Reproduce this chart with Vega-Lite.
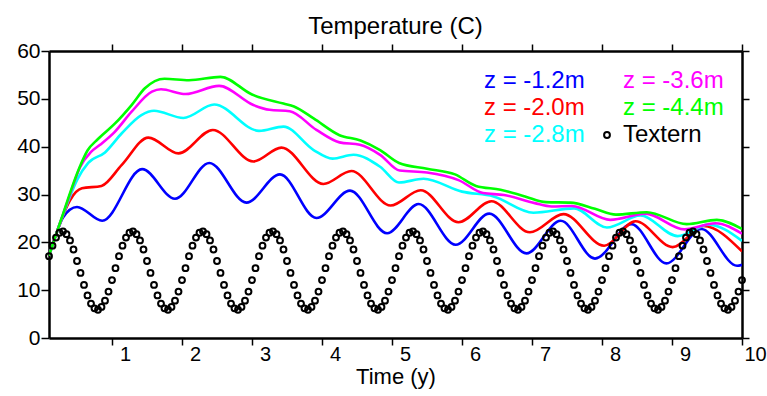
{
  "$schema": "https://vega.github.io/schema/vega-lite/v6.json",
  "width": 693,
  "height": 287,
  "autosize": {"type": "none"},
  "padding": {"left": 49, "top": 51, "right": 25, "bottom": 58},
  "background": "white",
  "title": {"text": "Temperature (C)", "font": "Liberation Sans", "fontSize": 24, "fontWeight": "normal", "color": "black", "anchor": "middle", "baseline": "alphabetic", "offset": -18},
  "config": {
    "view": {"stroke": null},
    "axis": {"grid": false, "domainColor": "black", "domainWidth": 2.5, "tickColor": "black", "tickWidth": 1.5, "labelColor": "black", "labelFont": "Liberation Sans", "titleFont": "Liberation Sans", "titleColor": "black", "titleFontWeight": "normal", "labelOverlap": false, "labelFlush": false}
  },
  "resolve": {"axis": {"x": "independent", "y": "independent"}},
  "layer": [
    {
      "data": {"values": [
        {"s": "z = -1.2m", "t": 0.1, "v": 17.2}, {"s": "z = -1.2m", "t": 0.2, "v": 21.6}, {"s": "z = -1.2m", "t": 0.3, "v": 25.2}, {"s": "z = -1.2m", "t": 0.5, "v": 27.4}, {"s": "z = -1.2m", "t": 0.86, "v": 24.5}, {"s": "z = -1.2m", "t": 1.43, "v": 35.3}, {"s": "z = -1.2m", "t": 1.9, "v": 29.1}, {"s": "z = -1.2m", "t": 2.39, "v": 36.6}, {"s": "z = -1.2m", "t": 2.92, "v": 28.3}, {"s": "z = -1.2m", "t": 3.4, "v": 34.2}, {"s": "z = -1.2m", "t": 3.92, "v": 25.1}, {"s": "z = -1.2m", "t": 4.4, "v": 30.8}, {"s": "z = -1.2m", "t": 4.93, "v": 21.9}, {"s": "z = -1.2m", "t": 5.38, "v": 28.0}, {"s": "z = -1.2m", "t": 5.91, "v": 19.5}, {"s": "z = -1.2m", "t": 6.39, "v": 26.0}, {"s": "z = -1.2m", "t": 6.92, "v": 17.7}, {"s": "z = -1.2m", "t": 7.41, "v": 24.5}, {"s": "z = -1.2m", "t": 7.9, "v": 16.6}, {"s": "z = -1.2m", "t": 8.42, "v": 23.8}, {"s": "z = -1.2m", "t": 8.92, "v": 15.6}, {"s": "z = -1.2m", "t": 9.42, "v": 22.8}, {"s": "z = -1.2m", "t": 9.93, "v": 15.1}, {"s": "z = -1.2m", "t": 10.0, "v": 15.3},
        {"s": "z = -2.0m", "t": 0.1, "v": 17.2}, {"s": "z = -2.0m", "t": 0.2, "v": 21.6}, {"s": "z = -2.0m", "t": 0.3, "v": 25.6}, {"s": "z = -2.0m", "t": 0.4, "v": 28.8}, {"s": "z = -2.0m", "t": 0.57, "v": 31.3}, {"s": "z = -2.0m", "t": 0.85, "v": 31.8}, {"s": "z = -2.0m", "t": 1.14, "v": 36.2}, {"s": "z = -2.0m", "t": 1.52, "v": 41.9}, {"s": "z = -2.0m", "t": 1.95, "v": 38.6}, {"s": "z = -2.0m", "t": 2.44, "v": 43.5}, {"s": "z = -2.0m", "t": 3.02, "v": 36.9}, {"s": "z = -2.0m", "t": 3.42, "v": 39.8}, {"s": "z = -2.0m", "t": 4.02, "v": 32.2}, {"s": "z = -2.0m", "t": 4.42, "v": 34.9}, {"s": "z = -2.0m", "t": 4.98, "v": 27.7}, {"s": "z = -2.0m", "t": 5.41, "v": 30.9}, {"s": "z = -2.0m", "t": 5.95, "v": 24.2}, {"s": "z = -2.0m", "t": 6.42, "v": 28.6}, {"s": "z = -2.0m", "t": 6.97, "v": 22.1}, {"s": "z = -2.0m", "t": 7.45, "v": 25.9}, {"s": "z = -2.0m", "t": 8.03, "v": 19.3}, {"s": "z = -2.0m", "t": 8.48, "v": 24.4}, {"s": "z = -2.0m", "t": 9.01, "v": 19.0}, {"s": "z = -2.0m", "t": 9.45, "v": 23.4}, {"s": "z = -2.0m", "t": 10.0, "v": 18.1},
        {"s": "z = -2.8m", "t": 0.1, "v": 17.2}, {"s": "z = -2.8m", "t": 0.2, "v": 21.6}, {"s": "z = -2.8m", "t": 0.3, "v": 25.7}, {"s": "z = -2.8m", "t": 0.4, "v": 29.6}, {"s": "z = -2.8m", "t": 0.5, "v": 33.0}, {"s": "z = -2.8m", "t": 0.66, "v": 36.6}, {"s": "z = -2.8m", "t": 0.9, "v": 38.8}, {"s": "z = -2.8m", "t": 1.14, "v": 42.8}, {"s": "z = -2.8m", "t": 1.42, "v": 46.6}, {"s": "z = -2.8m", "t": 1.6, "v": 47.5}, {"s": "z = -2.8m", "t": 2.02, "v": 46.0}, {"s": "z = -2.8m", "t": 2.46, "v": 48.8}, {"s": "z = -2.8m", "t": 3.1, "v": 43.3}, {"s": "z = -2.8m", "t": 3.45, "v": 44.2}, {"s": "z = -2.8m", "t": 3.88, "v": 39.3}, {"s": "z = -2.8m", "t": 4.15, "v": 37.5}, {"s": "z = -2.8m", "t": 4.45, "v": 38.3}, {"s": "z = -2.8m", "t": 4.83, "v": 35.8}, {"s": "z = -2.8m", "t": 5.1, "v": 32.5}, {"s": "z = -2.8m", "t": 5.45, "v": 33.3}, {"s": "z = -2.8m", "t": 6.0, "v": 30.6}, {"s": "z = -2.8m", "t": 6.45, "v": 29.6}, {"s": "z = -2.8m", "t": 7.02, "v": 26.2}, {"s": "z = -2.8m", "t": 7.6, "v": 27.1}, {"s": "z = -2.8m", "t": 8.07, "v": 23.1}, {"s": "z = -2.8m", "t": 8.55, "v": 25.6}, {"s": "z = -2.8m", "t": 9.08, "v": 21.3}, {"s": "z = -2.8m", "t": 9.52, "v": 23.7}, {"s": "z = -2.8m", "t": 10.0, "v": 20.3},
        {"s": "z = -3.6m", "t": 0.1, "v": 17.2}, {"s": "z = -3.6m", "t": 0.2, "v": 21.6}, {"s": "z = -3.6m", "t": 0.3, "v": 25.8}, {"s": "z = -3.6m", "t": 0.4, "v": 30.0}, {"s": "z = -3.6m", "t": 0.54, "v": 35.6}, {"s": "z = -3.6m", "t": 0.7, "v": 38.9}, {"s": "z = -3.6m", "t": 0.83, "v": 40.4}, {"s": "z = -3.6m", "t": 1.04, "v": 43.1}, {"s": "z = -3.6m", "t": 1.28, "v": 47.3}, {"s": "z = -3.6m", "t": 1.57, "v": 51.5}, {"s": "z = -3.6m", "t": 1.7, "v": 52.0}, {"s": "z = -3.6m", "t": 2.05, "v": 51.0}, {"s": "z = -3.6m", "t": 2.53, "v": 52.7}, {"s": "z = -3.6m", "t": 3.02, "v": 48.7}, {"s": "z = -3.6m", "t": 3.25, "v": 47.7}, {"s": "z = -3.6m", "t": 3.54, "v": 47.4}, {"s": "z = -3.6m", "t": 3.92, "v": 43.5}, {"s": "z = -3.6m", "t": 4.25, "v": 40.9}, {"s": "z = -3.6m", "t": 4.54, "v": 40.4}, {"s": "z = -3.6m", "t": 4.83, "v": 38.3}, {"s": "z = -3.6m", "t": 5.11, "v": 35.0}, {"s": "z = -3.6m", "t": 5.5, "v": 34.6}, {"s": "z = -3.6m", "t": 5.95, "v": 33.0}, {"s": "z = -3.6m", "t": 6.3, "v": 30.3}, {"s": "z = -3.6m", "t": 6.6, "v": 29.9}, {"s": "z = -3.6m", "t": 7.04, "v": 28.2}, {"s": "z = -3.6m", "t": 7.28, "v": 27.5}, {"s": "z = -3.6m", "t": 7.57, "v": 27.6}, {"s": "z = -3.6m", "t": 8.12, "v": 24.7}, {"s": "z = -3.6m", "t": 8.62, "v": 26.0}, {"s": "z = -3.6m", "t": 9.18, "v": 22.7}, {"s": "z = -3.6m", "t": 9.62, "v": 24.0}, {"s": "z = -3.6m", "t": 10.0, "v": 21.8},
        {"s": "z = -4.4m", "t": 0.1, "v": 17.2}, {"s": "z = -4.4m", "t": 0.2, "v": 21.6}, {"s": "z = -4.4m", "t": 0.3, "v": 25.9}, {"s": "z = -4.4m", "t": 0.4, "v": 30.3}, {"s": "z = -4.4m", "t": 0.54, "v": 35.8}, {"s": "z = -4.4m", "t": 0.65, "v": 39.2}, {"s": "z = -4.4m", "t": 0.8, "v": 41.6}, {"s": "z = -4.4m", "t": 1.04, "v": 44.8}, {"s": "z = -4.4m", "t": 1.28, "v": 48.7}, {"s": "z = -4.4m", "t": 1.47, "v": 52.2}, {"s": "z = -4.4m", "t": 1.75, "v": 54.2}, {"s": "z = -4.4m", "t": 2.1, "v": 53.9}, {"s": "z = -4.4m", "t": 2.55, "v": 54.6}, {"s": "z = -4.4m", "t": 3.0, "v": 50.9}, {"s": "z = -4.4m", "t": 3.45, "v": 49.0}, {"s": "z = -4.4m", "t": 3.6, "v": 48.4}, {"s": "z = -4.4m", "t": 3.88, "v": 45.9}, {"s": "z = -4.4m", "t": 4.25, "v": 42.4}, {"s": "z = -4.4m", "t": 4.55, "v": 41.3}, {"s": "z = -4.4m", "t": 4.83, "v": 39.3}, {"s": "z = -4.4m", "t": 5.1, "v": 36.6}, {"s": "z = -4.4m", "t": 5.5, "v": 35.4}, {"s": "z = -4.4m", "t": 5.9, "v": 34.2}, {"s": "z = -4.4m", "t": 6.2, "v": 31.8}, {"s": "z = -4.4m", "t": 6.55, "v": 31.0}, {"s": "z = -4.4m", "t": 6.9, "v": 29.6}, {"s": "z = -4.4m", "t": 7.2, "v": 28.4}, {"s": "z = -4.4m", "t": 7.55, "v": 28.3}, {"s": "z = -4.4m", "t": 7.9, "v": 27.0}, {"s": "z = -4.4m", "t": 8.2, "v": 25.8}, {"s": "z = -4.4m", "t": 8.64, "v": 26.3}, {"s": "z = -4.4m", "t": 9.21, "v": 23.8}, {"s": "z = -4.4m", "t": 9.64, "v": 24.7}, {"s": "z = -4.4m", "t": 10.0, "v": 22.8}
      ]},
      "mark": {"type": "line", "interpolate": "monotone", "strokeWidth": 2.6, "clip": true},
      "encoding": {
        "x": {"field": "t", "type": "quantitative", "scale": {"domain": [0.1, 10], "nice": false, "zero": false},
          "axis": {"orient": "bottom", "values": [1, 2, 3, 4, 5, 6, 7, 8, 9, 10], "tickSize": 7, "labelFontSize": 20, "labelAlign": "center", "labelOffset": 13, "labelBaseline": "alphabetic", "labelPadding": 15, "title": "Time (y)", "titleFontSize": 22, "titleBaseline": "alphabetic", "titleY": 45}},
        "y": {"field": "v", "type": "quantitative", "scale": {"domain": [0, 60], "nice": false},
          "axis": {"orient": "left", "values": [0, 10, 20, 30, 40, 50, 60], "tickSize": 8, "labelFontSize": 21, "labelPadding": 1, "title": null}},
        "color": {"field": "s", "type": "nominal",
          "scale": {"domain": ["z = -1.2m", "z = -2.0m", "z = -2.8m", "z = -3.6m", "z = -4.4m", "Textern"], "range": ["#0000ff", "#ff0000", "#00ffff", "#ff00ff", "#00ff00", "#000000"]},
          "legend": {"title": null, "orient": "top-right", "offset": 18, "columns": 2, "columnPadding": 10, "rowPadding": 3, "labelFont": "Liberation Sans", "labelFontSize": 24, "labelOffset": 4, "labelLimit": 300, "symbolSize": 34, "symbolType": "circle", "symbolStrokeWidth": 2,
            "encoding": {
              "labels": {"fill": {"value": {"expr": "scale('color', datum.value)"}}},
              "symbols": {"opacity": {"value": {"expr": "datum.value === 'Textern' ? 1 : 0"}}, "stroke": {"value": "black"}, "fill": {"value": "transparent"}, "shape": {"value": "circle"}}
            }}}
      }
    },
    {
      "data": {"values": [
        {"t": 0.1, "Textern": 17.1}, {"t": 0.15, "Textern": 19.3}, {"t": 0.2, "Textern": 21.0}, {"t": 0.25, "Textern": 22.0}, {"t": 0.3, "Textern": 22.3}, {"t": 0.35, "Textern": 21.7}, {"t": 0.4, "Textern": 20.4}, {"t": 0.45, "Textern": 18.5}, {"t": 0.5, "Textern": 16.1}, {"t": 0.55, "Textern": 13.6}, {"t": 0.6, "Textern": 11.1}, {"t": 0.65, "Textern": 8.9}, {"t": 0.7, "Textern": 7.2}, {"t": 0.75, "Textern": 6.2}, {"t": 0.8, "Textern": 5.9}, {"t": 0.85, "Textern": 6.5}, {"t": 0.9, "Textern": 7.8}, {"t": 0.95, "Textern": 9.7},
        {"t": 1.0, "Textern": 12.1}, {"t": 1.05, "Textern": 14.6}, {"t": 1.1, "Textern": 17.1}, {"t": 1.15, "Textern": 19.3}, {"t": 1.2, "Textern": 21.0}, {"t": 1.25, "Textern": 22.0}, {"t": 1.3, "Textern": 22.3}, {"t": 1.35, "Textern": 21.7}, {"t": 1.4, "Textern": 20.4}, {"t": 1.45, "Textern": 18.5}, {"t": 1.5, "Textern": 16.1}, {"t": 1.55, "Textern": 13.6}, {"t": 1.6, "Textern": 11.1}, {"t": 1.65, "Textern": 8.9}, {"t": 1.7, "Textern": 7.2}, {"t": 1.75, "Textern": 6.2}, {"t": 1.8, "Textern": 5.9}, {"t": 1.85, "Textern": 6.5}, {"t": 1.9, "Textern": 7.8}, {"t": 1.95, "Textern": 9.7},
        {"t": 2.0, "Textern": 12.1}, {"t": 2.05, "Textern": 14.6}, {"t": 2.1, "Textern": 17.1}, {"t": 2.15, "Textern": 19.3}, {"t": 2.2, "Textern": 21.0}, {"t": 2.25, "Textern": 22.0}, {"t": 2.3, "Textern": 22.3}, {"t": 2.35, "Textern": 21.7}, {"t": 2.4, "Textern": 20.4}, {"t": 2.45, "Textern": 18.5}, {"t": 2.5, "Textern": 16.1}, {"t": 2.55, "Textern": 13.6}, {"t": 2.6, "Textern": 11.1}, {"t": 2.65, "Textern": 8.9}, {"t": 2.7, "Textern": 7.2}, {"t": 2.75, "Textern": 6.2}, {"t": 2.8, "Textern": 5.9}, {"t": 2.85, "Textern": 6.5}, {"t": 2.9, "Textern": 7.8}, {"t": 2.95, "Textern": 9.7},
        {"t": 3.0, "Textern": 12.1}, {"t": 3.05, "Textern": 14.6}, {"t": 3.1, "Textern": 17.1}, {"t": 3.15, "Textern": 19.3}, {"t": 3.2, "Textern": 21.0}, {"t": 3.25, "Textern": 22.0}, {"t": 3.3, "Textern": 22.3}, {"t": 3.35, "Textern": 21.7}, {"t": 3.4, "Textern": 20.4}, {"t": 3.45, "Textern": 18.5}, {"t": 3.5, "Textern": 16.1}, {"t": 3.55, "Textern": 13.6}, {"t": 3.6, "Textern": 11.1}, {"t": 3.65, "Textern": 8.9}, {"t": 3.7, "Textern": 7.2}, {"t": 3.75, "Textern": 6.2}, {"t": 3.8, "Textern": 5.9}, {"t": 3.85, "Textern": 6.5}, {"t": 3.9, "Textern": 7.8}, {"t": 3.95, "Textern": 9.7},
        {"t": 4.0, "Textern": 12.1}, {"t": 4.05, "Textern": 14.6}, {"t": 4.1, "Textern": 17.1}, {"t": 4.15, "Textern": 19.3}, {"t": 4.2, "Textern": 21.0}, {"t": 4.25, "Textern": 22.0}, {"t": 4.3, "Textern": 22.3}, {"t": 4.35, "Textern": 21.7}, {"t": 4.4, "Textern": 20.4}, {"t": 4.45, "Textern": 18.5}, {"t": 4.5, "Textern": 16.1}, {"t": 4.55, "Textern": 13.6}, {"t": 4.6, "Textern": 11.1}, {"t": 4.65, "Textern": 8.9}, {"t": 4.7, "Textern": 7.2}, {"t": 4.75, "Textern": 6.2}, {"t": 4.8, "Textern": 5.9}, {"t": 4.85, "Textern": 6.5}, {"t": 4.9, "Textern": 7.8}, {"t": 4.95, "Textern": 9.7},
        {"t": 5.0, "Textern": 12.1}, {"t": 5.05, "Textern": 14.6}, {"t": 5.1, "Textern": 17.1}, {"t": 5.15, "Textern": 19.3}, {"t": 5.2, "Textern": 21.0}, {"t": 5.25, "Textern": 22.0}, {"t": 5.3, "Textern": 22.3}, {"t": 5.35, "Textern": 21.7}, {"t": 5.4, "Textern": 20.4}, {"t": 5.45, "Textern": 18.5}, {"t": 5.5, "Textern": 16.1}, {"t": 5.55, "Textern": 13.6}, {"t": 5.6, "Textern": 11.1}, {"t": 5.65, "Textern": 8.9}, {"t": 5.7, "Textern": 7.2}, {"t": 5.75, "Textern": 6.2}, {"t": 5.8, "Textern": 5.9}, {"t": 5.85, "Textern": 6.5}, {"t": 5.9, "Textern": 7.8}, {"t": 5.95, "Textern": 9.7},
        {"t": 6.0, "Textern": 12.1}, {"t": 6.05, "Textern": 14.6}, {"t": 6.1, "Textern": 17.1}, {"t": 6.15, "Textern": 19.3}, {"t": 6.2, "Textern": 21.0}, {"t": 6.25, "Textern": 22.0}, {"t": 6.3, "Textern": 22.3}, {"t": 6.35, "Textern": 21.7}, {"t": 6.4, "Textern": 20.4}, {"t": 6.45, "Textern": 18.5}, {"t": 6.5, "Textern": 16.1}, {"t": 6.55, "Textern": 13.6}, {"t": 6.6, "Textern": 11.1}, {"t": 6.65, "Textern": 8.9}, {"t": 6.7, "Textern": 7.2}, {"t": 6.75, "Textern": 6.2}, {"t": 6.8, "Textern": 5.9}, {"t": 6.85, "Textern": 6.5}, {"t": 6.9, "Textern": 7.8}, {"t": 6.95, "Textern": 9.7},
        {"t": 7.0, "Textern": 12.1}, {"t": 7.05, "Textern": 14.6}, {"t": 7.1, "Textern": 17.1}, {"t": 7.15, "Textern": 19.3}, {"t": 7.2, "Textern": 21.0}, {"t": 7.25, "Textern": 22.0}, {"t": 7.3, "Textern": 22.3}, {"t": 7.35, "Textern": 21.7}, {"t": 7.4, "Textern": 20.4}, {"t": 7.45, "Textern": 18.5}, {"t": 7.5, "Textern": 16.1}, {"t": 7.55, "Textern": 13.6}, {"t": 7.6, "Textern": 11.1}, {"t": 7.65, "Textern": 8.9}, {"t": 7.7, "Textern": 7.2}, {"t": 7.75, "Textern": 6.2}, {"t": 7.8, "Textern": 5.9}, {"t": 7.85, "Textern": 6.5}, {"t": 7.9, "Textern": 7.8}, {"t": 7.95, "Textern": 9.7},
        {"t": 8.0, "Textern": 12.1}, {"t": 8.05, "Textern": 14.6}, {"t": 8.1, "Textern": 17.1}, {"t": 8.15, "Textern": 19.3}, {"t": 8.2, "Textern": 21.0}, {"t": 8.25, "Textern": 22.0}, {"t": 8.3, "Textern": 22.3}, {"t": 8.35, "Textern": 21.7}, {"t": 8.4, "Textern": 20.4}, {"t": 8.45, "Textern": 18.5}, {"t": 8.5, "Textern": 16.1}, {"t": 8.55, "Textern": 13.6}, {"t": 8.6, "Textern": 11.1}, {"t": 8.65, "Textern": 8.9}, {"t": 8.7, "Textern": 7.2}, {"t": 8.75, "Textern": 6.2}, {"t": 8.8, "Textern": 5.9}, {"t": 8.85, "Textern": 6.5}, {"t": 8.9, "Textern": 7.8}, {"t": 8.95, "Textern": 9.7},
        {"t": 9.0, "Textern": 12.1}, {"t": 9.05, "Textern": 14.6}, {"t": 9.1, "Textern": 17.1}, {"t": 9.15, "Textern": 19.3}, {"t": 9.2, "Textern": 21.0}, {"t": 9.25, "Textern": 22.0}, {"t": 9.3, "Textern": 22.3}, {"t": 9.35, "Textern": 21.7}, {"t": 9.4, "Textern": 20.4}, {"t": 9.45, "Textern": 18.5}, {"t": 9.5, "Textern": 16.1}, {"t": 9.55, "Textern": 13.6}, {"t": 9.6, "Textern": 11.1}, {"t": 9.65, "Textern": 8.9}, {"t": 9.7, "Textern": 7.2}, {"t": 9.75, "Textern": 6.2}, {"t": 9.8, "Textern": 5.9}, {"t": 9.85, "Textern": 6.5}, {"t": 9.9, "Textern": 7.8}, {"t": 9.95, "Textern": 9.7},
        {"t": 10.0, "Textern": 12.1}
      ]},
      "transform": [{"fold": ["Textern"], "as": ["s", "v"]}],
      "mark": {"type": "point", "shape": "circle", "filled": false, "size": 34, "strokeWidth": 2, "opacity": 1},
      "encoding": {
        "x": {"field": "t", "type": "quantitative", "axis": {"orient": "top", "values": [1, 2, 3, 4, 5, 6, 7, 8, 9, 10], "labels": false, "tickSize": 7, "title": null}},
        "y": {"field": "v", "type": "quantitative", "axis": {"orient": "right", "values": [0, 10, 20, 30, 40, 50, 60], "labels": false, "tickSize": 7, "title": null}},
        "color": {"field": "s", "type": "nominal"}
      }
    }
  ]
}
